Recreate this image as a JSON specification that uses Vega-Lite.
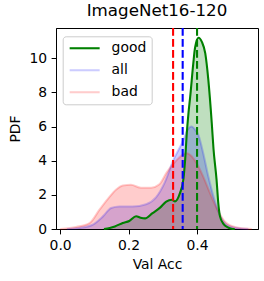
{
  "$schema": "https://vega.github.io/schema/vega-lite/v6.json",
  "autosize": "none",
  "width": 202,
  "height": 201,
  "padding": {"left": 56, "top": 28, "right": 6, "bottom": 52},
  "title": {"text": "ImageNet16-120", "fontSize": 16.7, "fontWeight": "normal", "font": "DejaVu Sans", "color": "black", "offset": 7},
  "config": {
    "font": "DejaVu Sans",
    "view": {"stroke": "black", "strokeWidth": 1},
    "axis": {
      "grid": false,
      "domainColor": "black",
      "tickColor": "black",
      "tickSize": 4.9,
      "labelColor": "black",
      "titleColor": "black",
      "labelFontSize": 13.9,
      "titleFontSize": 13.9,
      "titleFontWeight": "normal",
      "labelPadding": 4.5,
      "labelFont": "DejaVu Sans",
      "titleFont": "DejaVu Sans"
    }
  },
  "datasets": {
    "kde": [
      {"series": "good", "x": 0.128, "y": 0},
      {"series": "good", "x": 0.145, "y": 0.06},
      {"series": "good", "x": 0.16, "y": 0.15},
      {"series": "good", "x": 0.183, "y": 0.35},
      {"series": "good", "x": 0.202, "y": 0.47},
      {"series": "good", "x": 0.222, "y": 0.75},
      {"series": "good", "x": 0.235, "y": 0.66},
      {"series": "good", "x": 0.248, "y": 0.62},
      {"series": "good", "x": 0.27, "y": 0.93},
      {"series": "good", "x": 0.292, "y": 1.25},
      {"series": "good", "x": 0.31, "y": 1.6},
      {"series": "good", "x": 0.326, "y": 1.71},
      {"series": "good", "x": 0.336, "y": 1.62},
      {"series": "good", "x": 0.35, "y": 2.1},
      {"series": "good", "x": 0.36, "y": 2.9},
      {"series": "good", "x": 0.365, "y": 4.0},
      {"series": "good", "x": 0.37, "y": 5.6},
      {"series": "good", "x": 0.375, "y": 6.8},
      {"series": "good", "x": 0.38, "y": 7.75},
      {"series": "good", "x": 0.389, "y": 9.7},
      {"series": "good", "x": 0.394, "y": 10.6},
      {"series": "good", "x": 0.404, "y": 11.2},
      {"series": "good", "x": 0.414, "y": 10.96},
      {"series": "good", "x": 0.424, "y": 10.28},
      {"series": "good", "x": 0.433, "y": 8.72},
      {"series": "good", "x": 0.443, "y": 6.19},
      {"series": "good", "x": 0.448, "y": 4.7},
      {"series": "good", "x": 0.457, "y": 2.88},
      {"series": "good", "x": 0.462, "y": 1.52},
      {"series": "good", "x": 0.467, "y": 0.74},
      {"series": "good", "x": 0.477, "y": 0.3},
      {"series": "good", "x": 0.49, "y": 0.1},
      {"series": "good", "x": 0.5, "y": 0.02},
      {"series": "good", "x": 0.51, "y": 0},
      {"series": "all", "x": 0.02, "y": 0},
      {"series": "all", "x": 0.056, "y": 0.06},
      {"series": "all", "x": 0.095, "y": 0.25},
      {"series": "all", "x": 0.125, "y": 0.74},
      {"series": "all", "x": 0.149, "y": 1.23},
      {"series": "all", "x": 0.173, "y": 1.32},
      {"series": "all", "x": 0.212, "y": 1.32},
      {"series": "all", "x": 0.251, "y": 1.45},
      {"series": "all", "x": 0.28, "y": 1.85},
      {"series": "all", "x": 0.305, "y": 2.7},
      {"series": "all", "x": 0.331, "y": 4.05},
      {"series": "all", "x": 0.36, "y": 5.2},
      {"series": "all", "x": 0.372, "y": 5.8},
      {"series": "all", "x": 0.384, "y": 6.0},
      {"series": "all", "x": 0.395, "y": 5.8},
      {"series": "all", "x": 0.404, "y": 5.5},
      {"series": "all", "x": 0.418, "y": 4.44},
      {"series": "all", "x": 0.433, "y": 3.07},
      {"series": "all", "x": 0.448, "y": 1.9},
      {"series": "all", "x": 0.462, "y": 1.03},
      {"series": "all", "x": 0.477, "y": 0.44},
      {"series": "all", "x": 0.496, "y": 0.15},
      {"series": "all", "x": 0.525, "y": 0.03},
      {"series": "all", "x": 0.55, "y": 0},
      {"series": "bad", "x": 0.0, "y": 0},
      {"series": "bad", "x": 0.047, "y": 0.12},
      {"series": "bad", "x": 0.086, "y": 0.35},
      {"series": "bad", "x": 0.115, "y": 1.13},
      {"series": "bad", "x": 0.139, "y": 1.75},
      {"series": "bad", "x": 0.163, "y": 2.3},
      {"series": "bad", "x": 0.183, "y": 2.55},
      {"series": "bad", "x": 0.207, "y": 2.59},
      {"series": "bad", "x": 0.236, "y": 2.42},
      {"series": "bad", "x": 0.266, "y": 2.42},
      {"series": "bad", "x": 0.29, "y": 2.62},
      {"series": "bad", "x": 0.311, "y": 3.3},
      {"series": "bad", "x": 0.341, "y": 4.05},
      {"series": "bad", "x": 0.36, "y": 4.38},
      {"series": "bad", "x": 0.37, "y": 4.44},
      {"series": "bad", "x": 0.385, "y": 4.25},
      {"series": "bad", "x": 0.399, "y": 3.85},
      {"series": "bad", "x": 0.418, "y": 3.07},
      {"series": "bad", "x": 0.438, "y": 2.1},
      {"series": "bad", "x": 0.457, "y": 1.23},
      {"series": "bad", "x": 0.477, "y": 0.54},
      {"series": "bad", "x": 0.506, "y": 0.15},
      {"series": "bad", "x": 0.545, "y": 0.02},
      {"series": "bad", "x": 0.56, "y": 0}
    ],
    "means": [
      {"series": "bad", "x": 0.33},
      {"series": "all", "x": 0.358},
      {"series": "good", "x": 0.4}
    ]
  },
  "encoding": {
    "x": {"field": "x", "type": "quantitative", "title": "Val Acc",
      "scale": {"domain": [-0.012, 0.578], "nice": false, "zero": false},
      "axis": {"values": [0, 0.2, 0.4], "format": ".1f", "titlePadding": 5}},
    "y": {"field": "y", "type": "quantitative", "title": "PDF",
      "scale": {"domain": [0, 11.77], "nice": false},
      "axis": {"values": [0, 2, 4, 6, 8, 10], "titlePadding": 6}}
  },
  "layer": [
    {"data": {"name": "kde"}, "transform": [{"filter": "datum.series == 'good'"}],
     "mark": {"type": "area", "interpolate": "monotone", "fill": "green", "fillOpacity": 0.25}},
    {"data": {"name": "kde"}, "transform": [{"filter": "datum.series == 'all'"}],
     "mark": {"type": "area", "interpolate": "monotone", "fill": "blue", "fillOpacity": 0.2}},
    {"data": {"name": "kde"}, "transform": [{"filter": "datum.series == 'bad'"}],
     "mark": {"type": "area", "interpolate": "monotone", "fill": "red", "fillOpacity": 0.2}},
    {"data": {"name": "kde"}, "transform": [{"filter": "datum.series == 'all'"}],
     "mark": {"type": "line", "interpolate": "monotone", "strokeWidth": 2.08},
     "encoding": {"stroke": {"field": "series", "type": "nominal",
       "scale": {"domain": ["good", "all", "bad"], "range": ["#008000", "rgba(0,0,255,0.2)", "rgba(255,0,0,0.2)"]},
       "legend": {"orient": "none", "legendX": 6.7, "legendY": 8.3, "title": null,
         "symbolType": "M-1,0H5", "symbolSize": 100, "symbolStrokeWidth": 2.08,
         "labelFontSize": 13.9, "labelFont": "DejaVu Sans", "labelColor": "black", "labelOffset": 30,
         "fillColor": "rgba(255,255,255,0.8)", "strokeColor": "#cccccc", "cornerRadius": 3,
         "padding": 5, "rowPadding": 7}}}},
    {"data": {"name": "kde"}, "transform": [{"filter": "datum.series == 'bad'"}],
     "mark": {"type": "line", "interpolate": "monotone", "strokeWidth": 2.08},
     "encoding": {"stroke": {"field": "series", "type": "nominal"}}},
    {"data": {"name": "kde"}, "transform": [{"filter": "datum.series == 'good'"}],
     "mark": {"type": "line", "interpolate": "monotone", "strokeWidth": 2.08},
     "encoding": {"stroke": {"field": "series", "type": "nominal"}}},
    {"data": {"name": "means"},
     "mark": {"type": "rule", "strokeWidth": 2.08, "strokeDash": [7.7, 3.3]},
     "encoding": {"x": {"field": "x", "type": "quantitative"}, "y": null,
       "color": {"field": "series", "type": "nominal",
         "scale": {"domain": ["good", "all", "bad"], "range": ["#008000", "blue", "red"]}, "legend": null}}}
  ]
}
